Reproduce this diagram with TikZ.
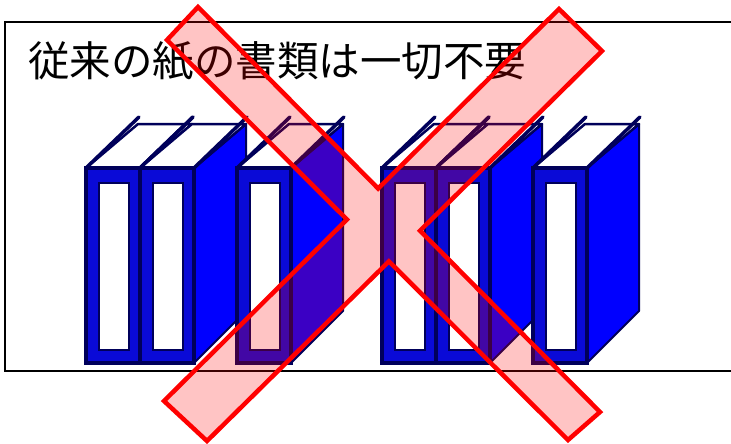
\documentclass[tikz,border=0pt]{standalone}
\usepackage{fontspec}
\newfontfamily\jpfont{Noto Sans CJK JP}
\definecolor{bookfront}{RGB}{10,10,215}
\definecolor{bookside}{RGB}{0,0,255}
\definecolor{bookedge}{RGB}{0,0,90}
\definecolor{crossred}{RGB}{255,0,0}
\tikzset{
  frame/.style={draw=black, line width=1.5pt},
  sideface/.style={fill=bookside, draw=bookedge, line width=2pt, line join=round},
  topface/.style={fill=white, draw=bookedge, line width=2.5pt, line join=round},
  spine/.style={bookedge, line width=3.5pt, line cap=round},
  frontface/.style={fill=bookfront, draw=bookedge, line width=3.5pt},
  label/.style={fill=white, draw=bookedge, line width=2.8pt},
  crossband/.style={draw=crossred, line width=4.5pt, line join=miter, fill=crossred, fill opacity=0.23},
}
% one binder: #1 = x of the front face's left edge
\newcommand\binder[1]{%
  \begin{scope}[shift={(#1,0)}]
    \path[sideface] (54,168) -- (106,124) -- (106,311) -- (54,363) -- cycle;
    \path[topface] (0,168) -- (52,124) -- (106,124) -- (54,168) -- cycle;
    \draw[spine] (0,168) -- (53,117);
    \draw[spine] (54,168) -- (107,117);
    \path[frontface] (0,168) rectangle (54,363);
    \path[label] (13,183) rectangle (43,350);
  \end{scope}}
\begin{document}
\begin{tikzpicture}[x=1pt, y=-1pt]
  \useasboundingbox (0,0) rectangle (731,444);
  \fill[white] (0,0) rectangle (731,444);

  % panel outline, open past the right edge
  \draw[frame] (740,22) -- (5,22) -- (5,371) -- (740,371);

  \node[anchor=base west, inner sep=0pt, font=\jpfont\fontsize{41.5}{41.5}\selectfont] (title) at (28,77) {従来の紙の書類は一切不要};

  % two stacks of binders
  \foreach \bx in {86,140,237,382,436,533} { \binder{\bx} }

  % the cross: two bands, outlined as one shape
  \coordinate (p1) at (198,7);   \coordinate (p2) at (600,412);
  \coordinate (q1) at (167,40);  \coordinate (q2) at (568,440);
  \coordinate (r1) at (559,9);   \coordinate (r2) at (164,401);
  \coordinate (s1) at (602,51);  \coordinate (s2) at (207,441);
  \coordinate (top) at (intersection of p1--p2 and r1--r2);
  \coordinate (left) at (intersection of q1--q2 and r1--r2);
  \coordinate (right) at (intersection of p1--p2 and s1--s2);
  \coordinate (bottom) at (intersection of q1--q2 and s1--s2);
  \path[crossband] (p1) -- (top) -- (r1) -- (s1) -- (right) -- (p2) -- (q2)
    -- (bottom) -- (s2) -- (r2) -- (left) -- (q1) -- cycle;
\end{tikzpicture}
\end{document}
